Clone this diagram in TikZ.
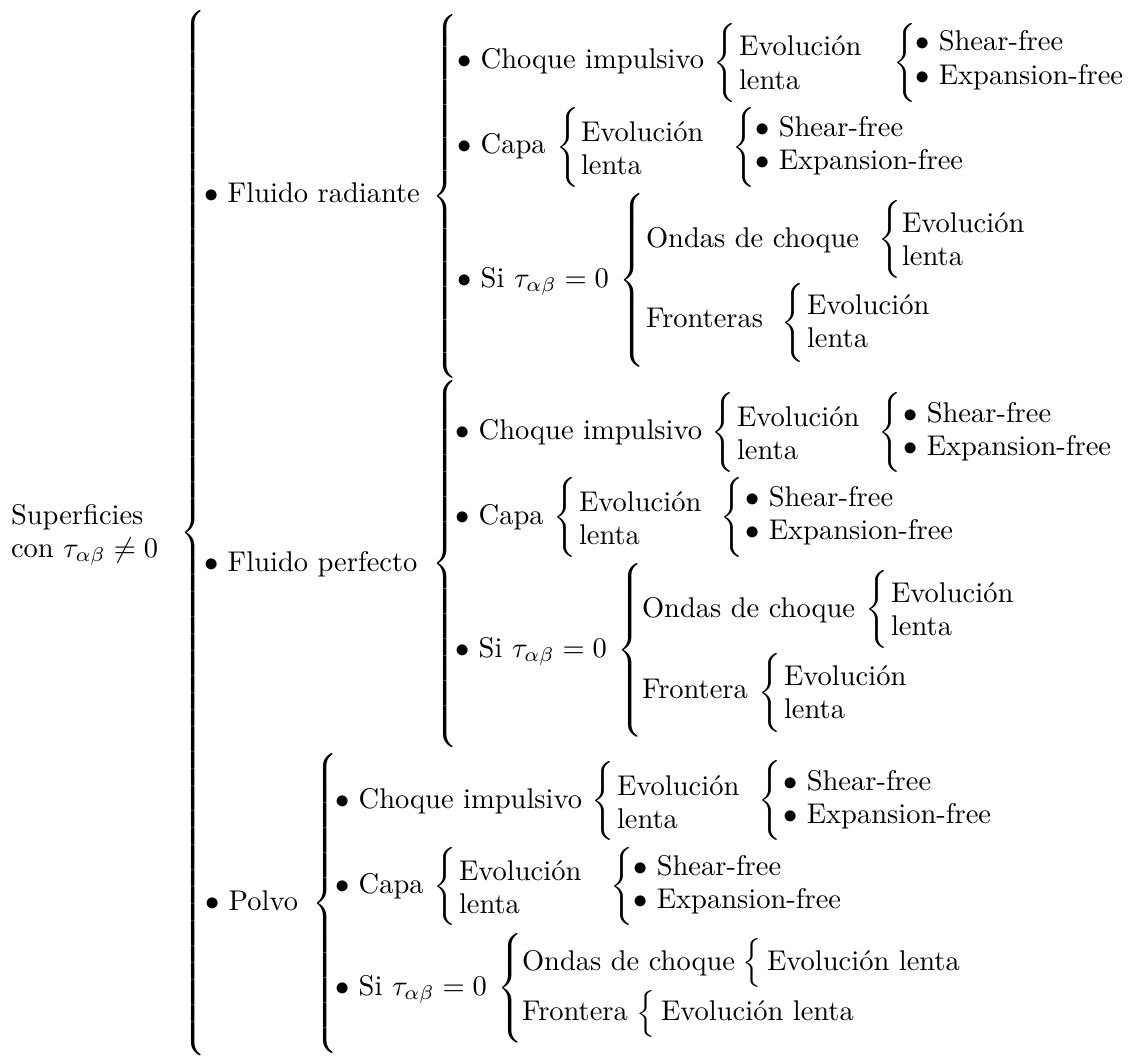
\documentclass[tikz,border=0pt]{standalone}
\usepackage{graphicx}
\newcommand\brc[1]{\resizebox*{\width}{\dimexpr0.3509pt*#1\relax}{$\delimiterfactor=1000 \delimitershortfall=0pt\left\{\vcenter{\hrule height \dimexpr0.3509pt*#1\relax width 0pt}\right.$}}
\newcommand\twol[2]{\begin{tabular}[t]{@{}l@{}}#1\\#2\end{tabular}}
\renewcommand\arraystretch{0.97}
\tikzset{
  lbl/.style={anchor=base west, inner sep=0pt, outer sep=0pt},
  brc/.style={anchor=west, inner sep=0pt, outer sep=0pt}
}
\begin{document}
\begin{tikzpicture}[x=0.3509pt,y=-0.3509pt]
\useasboundingbox (0,0) rectangle (1130,1060);
% root
\node[lbl] (root) at (11,524) {\twol{Superficies}{con $\tau_{\alpha\beta}\neq 0$}};
\node[brc] (b0) at (180,533) {\brc{1046}};
% level 1
\node[lbl] (fr) at (204,202) {$\bullet$ Fluido radiante};
\node[brc] (b1) at (432,196) {\brc{364}};
\node[lbl] (fp) at (204,571) {$\bullet$ Fluido perfecto};
\node[brc] (b2) at (432,564) {\brc{368}};
\node[lbl] (po) at (205,910) {$\bullet$ Polvo};
\node[brc] (b3) at (312,903) {\brc{300}};
% ---- Fluido radiante
\node[lbl] (fr1) at (457,69) {$\bullet$ Choque impulsivo};
\node[brc] (fr1b) at (713,62.5) {\brc{79}};
\node[lbl] (fr1e) at (739,56) {\twol{Evolución}{lenta}};
\node[brc] (fr1c) at (893,62.5) {\brc{79}};
\node[lbl] (fr1s) at (915,51) {\twol{$\bullet$ Shear-free}{$\bullet$ Expansion-free}};
\node[lbl] (fr2) at (457,154) {$\bullet$ Capa};
\node[brc] (fr2b) at (556,147) {\brc{80}};
\node[lbl] (fr2e) at (581,141) {\twol{Evolución}{lenta}};
\node[brc] (fr2c) at (732,147) {\brc{80}};
\node[lbl] (fr2s) at (755,136) {\twol{$\bullet$ Shear-free}{$\bullet$ Expansion-free}};
\node[lbl] (fr3) at (457,287) {$\bullet$ Si $\tau_{\alpha\beta}=0$};
\node[brc] (fr3b) at (619,280) {\brc{174}};
\node[lbl] (fr3o) at (646,247) {Ondas de choque};
\node[brc] (fr3ob) at (878,239) {\brc{78}};
\node[lbl] (fr3oe) at (902,232) {\twol{Evolución}{lenta}};
\node[lbl] (fr3f) at (646,327) {Fronteras};
\node[brc] (fr3fb) at (781,322.5) {\brc{79}};
\node[lbl] (fr3fe) at (807,314) {\twol{Evolución}{lenta}};
% ---- Fluido perfecto
\node[lbl] (fp1) at (455,439) {$\bullet$ Choque impulsivo};
\node[brc] (fp1b) at (711,432) {\brc{80}};
\node[lbl] (fp1e) at (737,426) {\twol{Evolución}{lenta}};
\node[brc] (fp1c) at (878,432) {\brc{80}};
\node[lbl] (fp1s) at (903,422) {\twol{$\bullet$ Shear-free}{$\bullet$ Expansion-free}};
\node[lbl] (fp2) at (455,524) {$\bullet$ Capa};
\node[brc] (fp2b) at (553,517) {\brc{80}};
\node[lbl] (fp2e) at (579,511) {\twol{Evolución}{lenta}};
\node[brc] (fp2c) at (720,517) {\brc{80}};
\node[lbl] (fp2s) at (745,506) {\twol{$\bullet$ Shear-free}{$\bullet$ Expansion-free}};
\node[lbl] (fp3) at (455,657) {$\bullet$ Si $\tau_{\alpha\beta}=0$};
\node[brc] (fp3b) at (617,650) {\brc{174}};
\node[lbl] (fp3o) at (642,617) {Ondas de choque};
\node[brc] (fp3ob) at (865,609) {\brc{78}};
\node[lbl] (fp3oe) at (891,602) {\twol{Evolución}{lenta}};
\node[lbl] (fp3f) at (642,698) {Frontera};
\node[brc] (fp3fb) at (758,692.5) {\brc{79}};
\node[lbl] (fp3fe) at (784,685) {\twol{Evolución}{lenta}};
% ---- Polvo
\node[lbl] (po1) at (335,808) {$\bullet$ Choque impulsivo};
\node[brc] (po1b) at (591,801) {\brc{79}};
\node[lbl] (po1e) at (617,795) {\twol{Evolución}{lenta}};
\node[brc] (po1c) at (758,800) {\brc{80}};
\node[lbl] (po1s) at (783,790) {\twol{$\bullet$ Shear-free}{$\bullet$ Expansion-free}};
\node[lbl] (po2) at (335,893) {$\bullet$ Capa};
\node[brc] (po2b) at (433,886) {\brc{78}};
\node[lbl] (po2e) at (459,880) {\twol{Evolución}{lenta}};
\node[brc] (po2c) at (610,886) {\brc{78}};
\node[lbl] (po2s) at (633,875) {\twol{$\bullet$ Shear-free}{$\bullet$ Expansion-free}};
\node[lbl] (po3) at (335,995) {$\bullet$ Si $\tau_{\alpha\beta}=0$};
\node[brc] (po3b) at (497,988) {\brc{110}};
\node[lbl] (po3o) at (522,970) {Ondas de choque};
\node[brc] (po3ob) at (742,962.5) {\brc{49}};
\node[lbl] (po3oe) at (767,970) {Evolución lenta};
\node[lbl] (po3f) at (522,1020) {Frontera};
\node[brc] (po3fb) at (636,1013.5) {\brc{47}};
\node[lbl] (po3fe) at (661,1020) {Evolución lenta};
\end{tikzpicture}
\end{document}
